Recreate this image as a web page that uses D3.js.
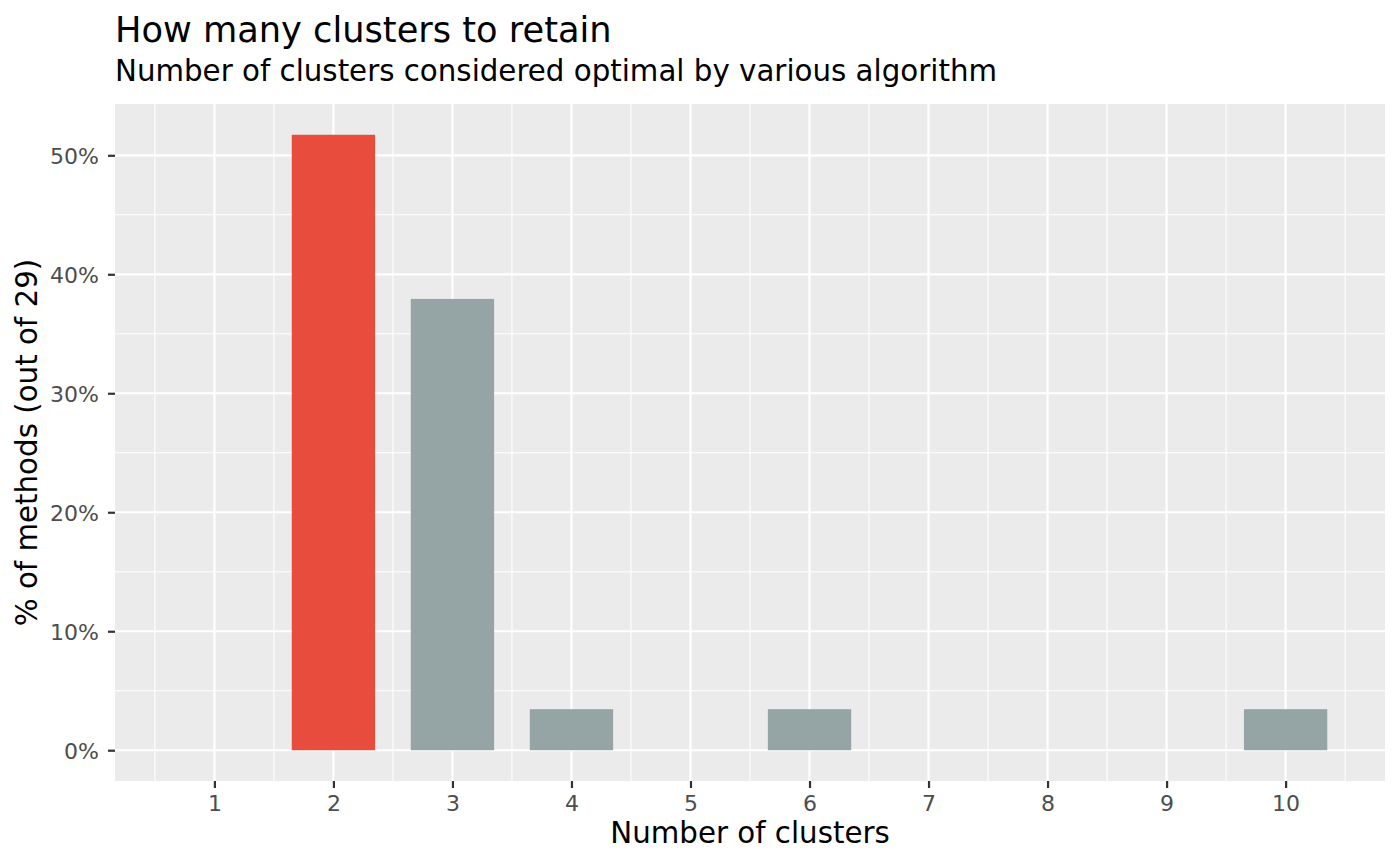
<!DOCTYPE html>
<html><head><meta charset="utf-8">
<script src="https://cdn.jsdelivr.net/npm/d3@7"></script>
<style>html,body{margin:0;padding:0;background:#fff;} text{font-family:"DejaVu Sans",sans-serif;}</style>
</head><body><svg id="c" width="1400" height="865"></svg>
<script>
const clusters = [1,2,3,4,5,6,7,8,9,10];
const nMethods = 29;
const barClusters = [2,3,4,6,10];
const barCounts = [15,11,1,1,1];
const barColors = ["#E74C3C","#95A5A6","#95A5A6","#95A5A6","#95A5A6"];
const yTicks = [0,0.1,0.2,0.3,0.4,0.5];
const yMinor = [0.05,0.15,0.25,0.35,0.45];
const xMinor = [0.5,1.5,2.5,3.5,4.5,5.5,6.5,7.5,8.5,9.5,10.5];
const titleText = "How many clusters to retain";
const subtitleText = "Number of clusters considered optimal by various algorithm";
const xTitle = "Number of clusters";
const yTitle = "% of methods (out of 29)";

const data = barClusters.map((k,i)=>({k, p: barCounts[i]/nMethods, c: barColors[i]}));
const svg = d3.select("#c");
const L=115,R=1385,T=104,B=781;
const bw = 0.7;
const xmin = d3.min(clusters)-bw/2, xmax = d3.max(clusters)+bw/2; const xe=(xmax-xmin)*0.05;
const x = d3.scaleLinear().domain([xmin-xe, xmax+xe]).range([L,R]);
const ymax = d3.max(data,d=>d.p); const ye = ymax*0.05;
const y = d3.scaleLinear().domain([-ye, ymax+ye]).range([B,T]);

svg.append("rect").attr("x",L).attr("y",T).attr("width",R-L).attr("height",B-T).attr("fill","#EBEBEB");
const g = svg.append("g");
g.selectAll(".ymin").data(yMinor).join("line").attr("x1",L).attr("x2",R).attr("y1",d=>y(d)).attr("y2",d=>y(d)).attr("stroke","#fff").attr("stroke-width",1.1);
g.selectAll(".xmin").data(xMinor).join("line").attr("y1",T).attr("y2",B).attr("x1",d=>x(d)).attr("x2",d=>x(d)).attr("stroke","#fff").attr("stroke-width",1.1);
g.selectAll(".ymaj").data(yTicks).join("line").attr("x1",L).attr("x2",R).attr("y1",d=>y(d)).attr("y2",d=>y(d)).attr("stroke","#fff").attr("stroke-width",2.2);
g.selectAll(".xmaj").data(clusters).join("line").attr("y1",T).attr("y2",B).attr("x1",d=>x(d)).attr("x2",d=>x(d)).attr("stroke","#fff").attr("stroke-width",2.2);

svg.selectAll(".bar").data(data).join("rect")
  .attr("x",d=>x(d.k-bw/2)).attr("width",d=>x(d.k+bw/2)-x(d.k-bw/2))
  .attr("y",d=>y(d.p)).attr("height",d=>y(0)-y(d.p)).attr("fill",d=>d.c);

// axes
const ya = svg.append("g").attr("transform",`translate(${L},0)`)
  .call(d3.axisLeft(y).tickValues(yTicks).tickFormat(d3.format(".0%")).tickSize(7).tickPadding(9));
const xa = svg.append("g").attr("transform",`translate(0,${B})`)
  .call(d3.axisBottom(x).tickValues(clusters).tickFormat(d3.format("d")).tickSize(7).tickPadding(5));
[ya,xa].forEach(a=>{a.select(".domain").remove();
  a.selectAll(".tick line").attr("stroke","#333").attr("stroke-width",2.2);
  a.selectAll(".tick text").attr("fill","#4D4D4D").style("font-size","22px").style("font-family","DejaVu Sans");});
ya.selectAll(".tick text").attr("dy","0.36em");
xa.selectAll(".tick text").attr("dy",null).attr("y",null).attr("transform",null).attr("y",29.7);

svg.append("text").attr("x",L).attr("y",41.7).text(titleText).style("font-size","35.2px").attr("fill","#000");
svg.append("text").attr("x",L).attr("y",81).text(subtitleText).style("font-size","29.3px").attr("fill","#000");
svg.append("text").attr("x",(L+R)/2).attr("y",843).attr("text-anchor","middle").text(xTitle).style("font-size","29.3px");
svg.append("text").attr("transform",`translate(36.5,${(T+B)/2}) rotate(-90)`).attr("text-anchor","middle").text(yTitle).style("font-size","29.3px");
</script></body></html>
